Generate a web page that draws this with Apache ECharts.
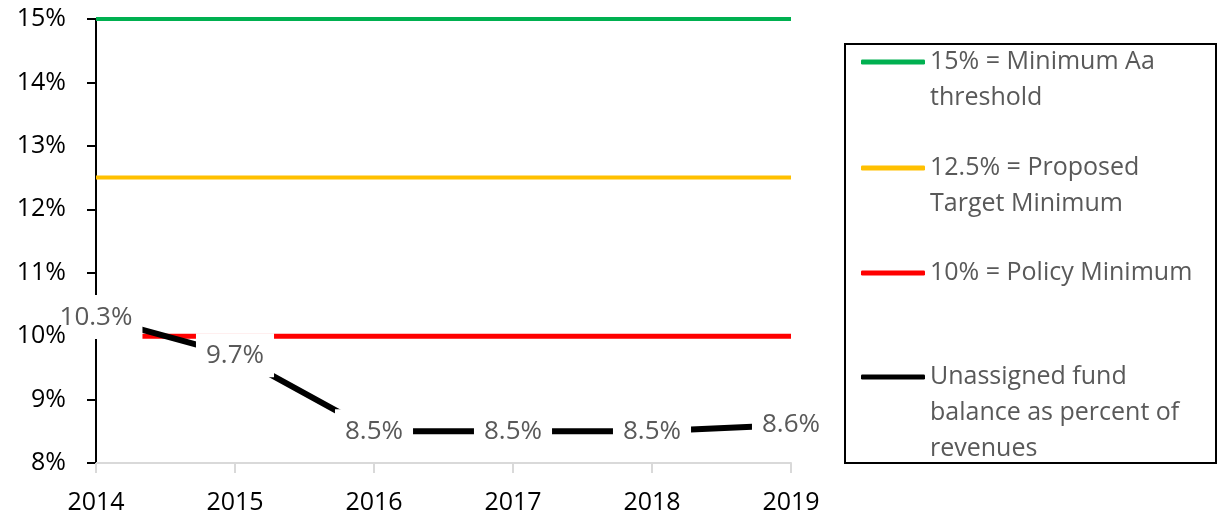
<!DOCTYPE html>
<html lang="en">
<head>
<meta charset="UTF-8">
<title>Unassigned fund balance</title>
<style>
  html, body { margin: 0; padding: 0; background: #fff; }
  #main { width: 1218px; height: 515px; }
</style>
</head>
<body>
<div id="main"></div>
<script src="https://cdn.jsdelivr.net/npm/echarts@6/dist/echarts.min.js"></script>
<script>
    var years = ['2014', '2015', '2016', '2017', '2018', '2019'];
    var fundBalance = [10.3, 9.7, 8.5, 8.5, 8.5, 8.6];
    var aaThreshold = [15, 15, 15, 15, 15, 15];
    var proposedTarget = [12.5, 12.5, 12.5, 12.5, 12.5, 12.5];
    var policyMin = [10, 10, 10, 10, 10, 10];

    var names = ['15% = Minimum Aa threshold', '12.5% = Proposed Target Minimum',
        '10% = Policy Minimum', 'Unassigned fund balance as percent of revenues'];
    // wrapped legend text, blank lines keep the icon on the first line
    var legendText = {};
    legendText[names[0]] = '\n15% = Minimum Aa\nthreshold';
    legendText[names[1]] = '\n12.5% = Proposed\nTarget Minimum';
    legendText[names[2]] = '10% = Policy Minimum';
    legendText[names[3]] = '\n\nUnassigned fund\nbalance as percent of\nrevenues';

    var font = 'Open Sans';
    var myChart = echarts.init(document.getElementById('main'));

    function legendAt(name, top) {
        return {
            data: [name],
            left: 861,
            top: top,
            padding: 0,
            icon: 'roundRect',
            itemWidth: 64,
            itemHeight: 5,
            formatter: function (n) { return legendText[n]; },
            textStyle: { color: '#595959', fontSize: 25, lineHeight: 36, fontFamily: font }
        };
    }

    var option = {
        animation: false,
        backgroundColor: '#fff',
        grid: { left: 96, right: 427, top: 19, bottom: 52 },
        legend: [
            legendAt(names[0], 8),
            legendAt(names[1], 114),
            legendAt(names[2], 255),
            legendAt(names[3], 287)
        ],
        graphic: [{
            type: 'rect',
            shape: { x: 845, y: 44, width: 371, height: 419 },
            style: { fill: 'none', stroke: '#000', lineWidth: 2 },
            silent: true
        }],
        xAxis: {
            type: 'category',
            data: years,
            boundaryGap: false,
            axisLine: { lineStyle: { color: '#d9d9d9', width: 2 } },
            axisTick: { show: true, length: 10, lineStyle: { color: '#d9d9d9', width: 2 } },
            axisLabel: { color: '#000', fontSize: 25, fontFamily: font, margin: 27 },
            splitLine: { show: false }
        },
        yAxis: [
            {
                type: 'value',
                min: 8,
                max: 15,
                interval: 1,
                axisLine: { show: true, lineStyle: { color: '#000', width: 2 } },
                axisTick: { show: true, length: 9, lineStyle: { color: '#000', width: 2 } },
                axisLabel: { show: false },
                splitLine: { show: false }
            },
            {
                // labels only, drawn above the data labels
                type: 'value',
                position: 'left',
                min: 8,
                max: 15,
                interval: 1,
                z: 20,
                axisLine: { show: false },
                axisTick: { show: false },
                axisLabel: {
                    color: '#000', fontSize: 25, fontFamily: font, margin: 30,
                    formatter: function (v) { return v + '%'; }
                },
                splitLine: { show: false }
            }
        ],
        series: [
            {
                name: names[0], type: 'line', data: aaThreshold, symbol: 'none', z: 2,
                itemStyle: { color: '#00b050' }, lineStyle: { color: '#00b050', width: 4 }
            },
            {
                name: names[1], type: 'line', data: proposedTarget, symbol: 'none', z: 2,
                itemStyle: { color: '#ffc000' }, lineStyle: { color: '#ffc000', width: 4 }
            },
            {
                name: names[2], type: 'line', data: policyMin, symbol: 'none', z: 2,
                itemStyle: { color: '#ff0000' }, lineStyle: { color: '#ff0000', width: 5 }
            },
            {
                name: names[3], type: 'line', data: fundBalance, z: 5,
                symbol: 'circle', symbolSize: 1,
                itemStyle: { color: '#000' }, lineStyle: { color: '#000', width: 6 },
                label: {
                    show: true,
                    position: 'inside',
                    color: '#595959',
                    fontSize: 26,
                    fontFamily: font,
                    backgroundColor: '#fff',
                    padding: [9, 10],
                    formatter: function (p) { return p.value.toFixed(1) + '%'; }
                }
            }
        ]
    };
    myChart.setOption(option);
</script>
</body>
</html>
